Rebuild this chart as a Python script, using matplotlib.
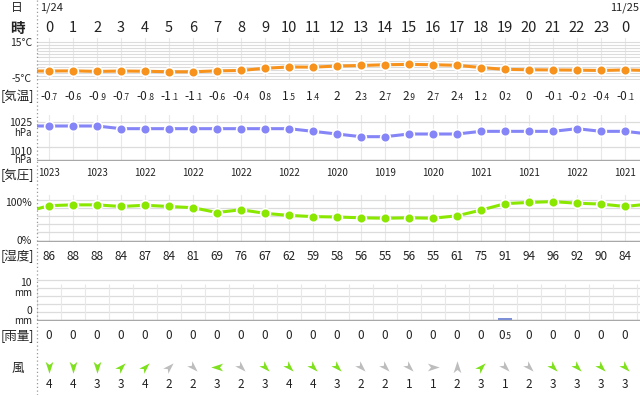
import numpy as np
import matplotlib.pyplot as plt
from matplotlib.path import Path
from matplotlib.lines import Line2D
from matplotlib.offsetbox import TextArea, HPacker, AnnotationBbox
import matplotlib.transforms as mtransforms

plt.rcParams['font.family'] = ['Noto Sans CJK JP', 'DejaVu Sans']

# データ (1/24 0時 ～ 1/25 0時)
hours = list(range(25))
hour_labels = [str(h) for h in range(24)] + ['0']

temp = [-0.7, -0.6, -0.9, -0.7, -0.8, -1.1, -1.1, -0.6, -0.4, 0.8, 1.5, 1.4,
        2, 2.3, 2.7, 2.9, 2.7, 2.4, 1.2, 0.2, 0, -0.1, -0.2, -0.4, -0.1]
temp_prev, temp_next = -0.7, -0.4

pressure = [1023, 1023, 1023, 1022, 1022, 1022, 1022, 1022, 1022, 1022, 1022, 1021,
            1020, 1019, 1019, 1020, 1020, 1020, 1021, 1021, 1021, 1021, 1022, 1021, 1021]
pressure_prev, pressure_next = 1023, 1020

humidity = [86, 88, 88, 84, 87, 84, 81, 69, 76, 67, 62, 59,
            58, 56, 55, 56, 55, 61, 75, 91, 94, 96, 92, 90, 84]
humidity_prev, humidity_next = 70, 90

rain = [0, 0, 0, 0, 0, 0, 0, 0, 0, 0, 0, 0,
        0, 0, 0, 0, 0, 0, 0, 0.5, 0, 0, 0, 0, 0]

wind_dir = ['N', 'N', 'N', 'SW', 'SW', 'SW', 'NW', 'E', 'NW', 'NW', 'NW', 'NW',
            'NW', 'NW', 'NW', 'NW', 'W', 'S', 'SW', 'NW', 'NW', 'NW', 'NW', 'NW', 'NW']
wind_speed = [4, 4, 3, 3, 4, 2, 2, 3, 2, 3, 4, 4,
              3, 2, 2, 1, 1, 2, 3, 1, 2, 3, 3, 3, 3]

# 矢印の向き (風が吹いていく方向, 度)
arrow_angle = {'N': -90, 'S': 90, 'E': 180, 'W': 0,
               'SW': 45, 'NW': -45, 'NE': -135, 'SE': 135}

W, H = 640, 395
XL, XR = 37, 640
fig = plt.figure(figsize=(W / 100, H / 100), dpi=100)

TXT = '#222222'
GRID_H = '#dcdcdc'
GRID_V = '#e8e8e8'
BASE = '#a8a8a8'


def fy(ypx):
    return 1 - ypx / H


def fx(xpx):
    return xpx / W


def add_panel(top, bottom, y_at_top, y_at_bottom):
    ax = fig.add_axes([fx(XL), fy(bottom), (XR - XL) / W, (bottom - top) / H])
    ax.set_xlim(-0.5, 24.625)
    ax.set_ylim(y_at_bottom, y_at_top)
    for s in ax.spines.values():
        s.set_visible(False)
    ax.tick_params(left=False, bottom=False, labelleft=False, labelbottom=False)
    ax.patch.set_alpha(0)
    return ax


def blend(ax):
    return mtransforms.blended_transform_factory(ax.transData, fig.transFigure)


def split_label(v, big, small):
    if float(v) == round(v):
        parts = [TextArea(str(int(round(v))), textprops=dict(fontsize=big, color=TXT))]
    else:
        s = f'{v:.1f}'
        ip, dp = s.split('.')
        parts = [TextArea(ip, textprops=dict(fontsize=big, color=TXT)),
                 TextArea('.' + dp, textprops=dict(fontsize=small, color=TXT))]
    return HPacker(children=parts, align='baseline', pad=0, sep=0)


def row_labels(ax, vals, ypx, big=8.5, small=6):
    for h, v in zip(hours, vals):
        box = split_label(v, big, small)
        ab = AnnotationBbox(box, (h, fy(ypx)), xycoords=blend(ax), frameon=False,
                            box_alignment=(0.5, 0.5), pad=0, annotation_clip=False)
        ax.add_artist(ab)


def left_text(ypx, s, size=7.5, x=32, ha='right'):
    fig.text(fx(x), fy(ypx), s, fontsize=size, color=TXT, ha=ha, va='center')


def series(ax, vals, prev, nxt, color):
    ax.plot([-1] + hours + [25], [prev] + vals + [nxt], color=color, lw=2.2,
            solid_capstyle='round', zorder=3)
    ax.plot(hours, vals, 'o', color=color, ms=7, mec='white', mew=1.2, zorder=4)


# 上部
fig.add_artist(Line2D([fx(XL), fx(XL)], [0, 1], transform=fig.transFigure,
                      ls=(0, (1, 2)), color='#999999', lw=0.9))
fig.text(fx(17), fy(8), '日', fontsize=8.5, color=TXT, ha='center', va='center')
fig.text(fx(17), fy(28), '時', fontsize=10.5, color=TXT, ha='center', va='center',
         fontweight='bold')
fig.text(fx(40), fy(8), '1/24', fontsize=8, color=TXT, ha='left', va='center')
fig.text(fx(610), fy(8), '11/25', fontsize=8, color=TXT, ha='left', va='center')

# 気温
ax_t = add_panel(38, 80, 15 + 4 / 1.85, -5 - 1 / 1.85)
ax_t.set_xticks(hours)
ax_t.set_yticks(np.arange(-5, 15.1, 5 / 3))
ax_t.grid(axis='y', color=GRID_H, lw=0.8)
ax_t.grid(axis='x', color=GRID_V, lw=0.8)
series(ax_t, temp, temp_prev, temp_next, '#f7921c')
for h, lab in zip(hours, hour_labels):
    ax_t.text(h, fy(28), lab, transform=blend(ax_t), fontsize=10.5, color=TXT,
              ha='center', va='center')
row_labels(ax_t, temp, 96)
left_text(43, '15°C')
left_text(79, '-5°C')
left_text(96, '[気温]', size=9, x=17.5, ha='center')

# 気圧
pp = 2.67
ax_p = add_panel(115, 161, 1023 + 11 / pp, 1023 - 35 / pp)
ax_p.set_xticks(hours)
ax_p.set_yticks([1023 + 4.3 / pp, 1023 - 20.7 / pp])
ax_p.grid(axis='y', color=GRID_H, lw=0.9)
ax_p.grid(axis='x', color=GRID_V, lw=0.8)
ax_p.axhline(1023 - 34 / pp, color=BASE, lw=1.0)
series(ax_p, pressure, pressure_prev, pressure_next, '#8585f7')
for h, v in zip(hours[::2], pressure[::2]):
    ax_p.text(h, fy(173), str(v), transform=blend(ax_p), fontsize=7, color=TXT,
              ha='center', va='center')
left_text(122.5, '1025', size=7.5)
left_text(132.5, 'hPa', size=7)
left_text(151.5, '1010', size=7.5)
left_text(160.5, 'hPa', size=7)
left_text(175, '[気圧]', size=9, x=17.5, ha='center')

# 湿度
hp = 0.405
ax_h = add_panel(195, 241.5, 100 + 5 / hp, -1 / hp)
ax_h.set_xticks(hours)
ax_h.set_yticks(range(0, 101, 20))
ax_h.grid(axis='y', color=GRID_H, lw=0.9)
ax_h.grid(axis='x', color=GRID_V, lw=0.8)
ax_h.axhline(0, color=BASE, lw=1.0)
series(ax_h, humidity, humidity_prev, humidity_next, '#8ae800')
for h, v in zip(hours, humidity):
    ax_h.text(h, fy(256), str(v), transform=blend(ax_h), fontsize=8.5, color=TXT,
              ha='center', va='center')
left_text(203, '100%')
left_text(241, '0%')
left_text(256, '[湿度]', size=9, x=17.5, ha='center')

# 雨量
ax_r = add_panel(278, 321, 10.5, -0.25)
ax_r.set_yticks(range(0, 11, 2))
ax_r.grid(axis='y', color=GRID_H, lw=0.9)
ax_r.vlines(np.arange(-0.5, 25, 1), 0, 9, color=GRID_V, lw=0.8)
ax_r.bar(hours, rain, width=0.55, color='#7d8fd6', zorder=3)
ax_r.axhline(0, color=BASE, lw=1.0, zorder=2)
row_labels(ax_r, rain, 335.5)
left_text(283, '10', size=7.5)
left_text(293, 'mm', size=7)
left_text(311, '0', size=7.5)
left_text(321, 'mm', size=7)
left_text(335.5, '[雨量]', size=9, x=17.5, ha='center')

# 風
base_arrow = np.array([[0, 1], [0.62, -0.9], [0, -0.4], [-0.62, -0.9], [0, 1]])
codes = [Path.MOVETO, Path.LINETO, Path.LINETO, Path.LINETO, Path.CLOSEPOLY]
for h, d, sp in zip(hours, wind_dir, wind_speed):
    a = np.deg2rad(arrow_angle[d] - 90)
    rot = np.array([[np.cos(a), -np.sin(a)], [np.sin(a), np.cos(a)]])
    marker = Path(base_arrow @ rot.T, codes)
    col = '#7fe01e' if sp >= 3 else '#bdbdbd'
    ax_t.plot(h, fy(367), marker=marker, ms=9, color=col, mec=col, mew=0,
              transform=blend(ax_t), clip_on=False)
    ax_t.text(h, fy(384), str(sp), transform=blend(ax_t), fontsize=8.5, color=TXT,
              ha='center', va='center')
left_text(368, '風', size=9, x=17.5, ha='center')

fig.savefig('out.png', dpi=100)
